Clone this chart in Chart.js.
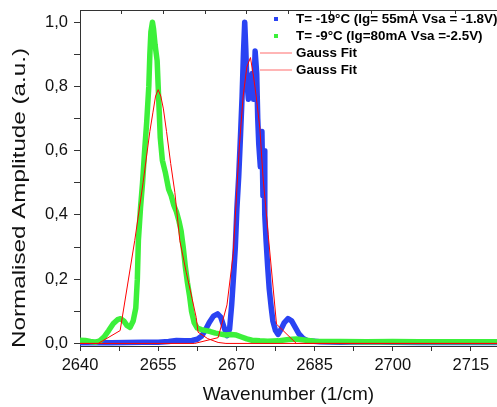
<!DOCTYPE html>
<html>
<head>
<meta charset="utf-8">
<script src="https://cdn.jsdelivr.net/npm/chart.js@4.4.1/dist/chart.umd.min.js"></script>
<style>
  html, body { margin: 0; padding: 0; background: #ffffff; }
  #wrap { width: 497px; height: 407px; }
</style>
</head>
<body>
<div id="wrap"><canvas id="c" width="497" height="407"></canvas></div>
<script>
// ---------------- DATA ----------------
const blueLabel = 'T= -19°C (Ig= 55mA Vsa = -1.8V)';
const greenLabel = 'T= -9°C (Ig=80mA Vsa =-2.5V)';
const fitLabel = 'Gauss Fit';
const xTitle = 'Wavenumber (1/cm)';
const yTitle = 'Normalised Amplitude (a.u.)';

const blueX = [2640, 2643, 2646, 2649, 2652, 2655, 2657, 2658.5, 2660, 2661.5, 2662.5, 2663.3, 2664.0, 2664.8, 2665.6, 2666.4, 2667.0, 2667.6, 2668.2, 2668.7, 2669.1, 2669.5, 2669.8, 2670.1, 2670.45, 2670.8, 2671.1, 2671.35, 2671.6, 2671.8, 2672.0, 2672.3, 2672.7, 2673.0, 2673.3, 2673.6, 2673.9, 2674.1, 2674.3, 2674.6, 2674.9, 2675.1, 2675.3, 2675.45, 2675.7, 2676.0, 2676.3, 2676.7, 2677.0, 2677.5, 2678.0, 2678.6, 2679.2, 2679.9, 2680.6, 2681.3, 2682.0, 2682.8, 2683.7, 2686, 2690, 2695, 2700, 2705, 2710, 2715, 2720];
const blueY = [0.002, 0.003, 0.002, 0.003, 0.004, 0.004, 0.006, 0.009, 0.008, 0.009, 0.013, 0.022, 0.040, 0.065, 0.085, 0.092, 0.082, 0.052, 0.024, 0.045, 0.12, 0.22, 0.30, 0.42, 0.52, 0.65, 0.77, 0.90, 1.00, 0.92, 0.82, 0.76, 0.78, 0.84, 0.76, 0.91, 0.84, 0.70, 0.62, 0.55, 0.66, 0.46, 0.60, 0.40, 0.32, 0.24, 0.17, 0.11, 0.07, 0.040, 0.028, 0.045, 0.065, 0.077, 0.070, 0.050, 0.030, 0.016, 0.008, 0.005, 0.004, 0.005, 0.004, 0.003, 0.004, 0.003, 0.003];

const greenX = [2640, 2641, 2642, 2643, 2643.8, 2644.6, 2645.5, 2646.4, 2647.2, 2647.8, 2648.4, 2649.0, 2649.6, 2650.2, 2650.7, 2651.0, 2651.2, 2651.6, 2652.0, 2652.4, 2652.8, 2653.2, 2653.4, 2653.6, 2653.9, 2654.1, 2654.4, 2654.8, 2655.0, 2655.2, 2655.4, 2655.8, 2656.4, 2657.0, 2657.5, 2658.0, 2658.5, 2659.0, 2659.4, 2659.8, 2660.2, 2660.6, 2661.0, 2661.4, 2661.9, 2662.5, 2663.3, 2664.2, 2665.0, 2666.0, 2667.0, 2668.0, 2669.0, 2670.0, 2671.0, 2672.0, 2673.0, 2674.5, 2676.0, 2678.0, 2680.0, 2681.5, 2683.0, 2685.0, 2690, 2695, 2700, 2705, 2710, 2715, 2720];
const greenY = [0.010, 0.009, 0.006, 0.004, 0.008, 0.020, 0.040, 0.062, 0.074, 0.077, 0.070, 0.056, 0.050, 0.070, 0.11, 0.20, 0.32, 0.42, 0.50, 0.60, 0.69, 0.80, 0.90, 0.97, 1.00, 0.98, 0.93, 0.88, 0.80, 0.72, 0.64, 0.57, 0.53, 0.48, 0.46, 0.43, 0.41, 0.38, 0.35, 0.30, 0.24, 0.19, 0.15, 0.10, 0.065, 0.048, 0.043, 0.040, 0.037, 0.032, 0.029, 0.026, 0.028, 0.026, 0.020, 0.014, 0.010, 0.008, 0.007, 0.008, 0.012, 0.014, 0.011, 0.007, 0.006, 0.005, 0.006, 0.005, 0.005, 0.005, 0.005];

const fit1X = [2640, 2643.5, 2647.7, 2650.5, 2652.1, 2653.4, 2654.0, 2654.5, 2655.0, 2655.5, 2656.0, 2656.6, 2657.4, 2658.2, 2659.15, 2660.4, 2661.5, 2662.3, 2662.65, 2664.5, 2666.5, 2668, 2720];
const fit1Y = [0, 0, 0.040, 0.32, 0.50, 0.66, 0.72, 0.77, 0.79, 0.77, 0.73, 0.66, 0.56, 0.47, 0.32, 0.22, 0.14, 0.08, 0.035, 0.015, 0.003, 0, 0];

const fit2X = [2640, 2662.0, 2666.5, 2668.2, 2669.4, 2670.3, 2670.6, 2671.3, 2672.0, 2672.7, 2673.3, 2673.8, 2674.5, 2675.1, 2676.1, 2677.7, 2681.5, 2720];
const fit2Y = [0, 0, 0.018, 0.12, 0.28, 0.54, 0.62, 0.77, 0.86, 0.89, 0.83, 0.77, 0.67, 0.52, 0.34, 0.06, 0, 0];

const xMin = 2640, xMax = 2720, xMajor = 15, xMinor = 7.5, xTopStep = 8;
const yMin = -0.008, yMax = 1.038, yMinor = 0.1;

// ---------------- STYLE ----------------
const BLUE = '#2a43f3';
const GREEN = '#3cf03a';
const RED = '#ff0000';
const AXIS = '#333333';
const TEXT = '#111111';
const FAMILY = "'Liberation Sans', Arial, Helvetica, sans-serif";

Chart.defaults.font.family = FAMILY;
Chart.defaults.color = TEXT;

function toXY(xs, ys) { return xs.map((x, i) => ({ x: x, y: ys[i] })); }

const legendPlugin = {
  id: 'insideLegend',
  afterDraw(chart) {
    const c = chart.ctx;
    c.save();
    c.font = 'bold 13.4px ' + FAMILY;
    c.textAlign = 'left';
    c.textBaseline = 'middle';
    chart.data.datasets.forEach((ds, i) => {
      const y = 19 + i * 17;
      if (ds.legendKind === 'point') {
        c.fillStyle = ds.borderColor;
        c.fillRect(274, y - 2, 4, 4);
      } else {
        c.strokeStyle = '#ff9c9c';
        c.lineWidth = 1.5;
        c.beginPath();
        c.moveTo(260, y);
        c.lineTo(292, y);
        c.stroke();
      }
      c.fillStyle = '#000';
      c.fillText(ds.label, 296, y + 0.5);
    });
    c.restore();
  }
};

const yTitlePlugin = {
  id: 'yTitle',
  afterDraw(chart) {
    const c = chart.ctx;
    c.save();
    c.font = '17.5px ' + FAMILY;
    c.fillStyle = TEXT;
    c.textAlign = 'center';
    c.textBaseline = 'middle';
    c.translate(20, 198);
    c.rotate(-Math.PI / 2);
    const w = c.measureText(yTitle).width;
    c.scale(300 / w, 1);
    c.fillText(yTitle, 0, 0);
    c.restore();
  }
};

const lineDs = (label, xs, ys, color, width, order, kind) => ({
  label: label,
  data: toXY(xs, ys),
  showLine: true,
  borderColor: color,
  backgroundColor: color,
  borderWidth: width,
  pointRadius: 0,
  tension: 0,
  borderJoinStyle: 'round',
  order: order,
  legendKind: kind
});

new Chart(document.getElementById('c').getContext('2d'), {
  type: 'scatter',
  data: {
    datasets: [
      lineDs(blueLabel, blueX, blueY, BLUE, 5.5, 2, 'point'),
      lineDs(greenLabel, greenX, greenY, GREEN, 5.5, 1, 'point'),
      lineDs(fitLabel, fit1X, fit1Y, RED, 1, 0, 'line'),
      lineDs(fitLabel, fit2X, fit2Y, RED, 1, 0, 'line')
    ]
  },
  options: {
    responsive: false,
    animation: false,
    devicePixelRatio: 1,
    layout: { padding: { top: 10, right: -1, left: 0, bottom: 0 } },
    plugins: { legend: { display: false }, tooltip: { enabled: false } },
    scales: {
      x: {
        type: 'linear', position: 'bottom', min: xMin, max: xMax,
        ticks: {
          stepSize: xMinor, includeBounds: false, autoSkip: false, maxRotation: 0,
          padding: 5, color: TEXT, font: { size: 16.5 },
          callback: (v) => {
            const k = (v - xMin) / xMajor;
            return Math.abs(k - Math.round(k)) < 1e-6 ? String(Math.round(v)) : '';
          }
        },
        grid: { drawOnChartArea: false, drawTicks: true, tickLength: 5, tickColor: AXIS },
        border: { display: true, color: AXIS, width: 1 },
        title: { display: true, text: xTitle, color: TEXT, font: { size: 19 }, padding: { top: 0, bottom: 1 } },
        afterFit: (s) => { s.height = 61; s.paddingLeft = 0; s.paddingRight = 0; }
      },
      x2: {
        type: 'linear', position: 'top', min: xMin, max: xMax,
        ticks: { display: false, stepSize: xTopStep, includeBounds: false },
        grid: { drawOnChartArea: false, drawTicks: true, tickLength: -4, tickColor: AXIS },
        border: { display: true, color: AXIS, width: 1 },
        afterFit: (s) => { s.height = 0; s.paddingLeft = 0; s.paddingRight = 0; }
      },
      y: {
        type: 'linear', position: 'left', min: yMin, max: yMax,
        ticks: {
          stepSize: yMinor, includeBounds: false, autoSkip: false,
          padding: 6, color: TEXT, font: { size: 16.5 },
          callback: (v) => {
            const r = Math.round(v * 10);
            return r % 2 === 0 ? (r / 10).toFixed(1).replace('.', ',') : '';
          }
        },
        grid: { drawOnChartArea: false, drawTicks: true, tickLength: 6, tickColor: AXIS },
        border: { display: true, color: AXIS, width: 1 },
        title: { display: false },
        afterFit: (s) => { s.width = 80; s.paddingTop = 0; s.paddingBottom = 0; }
      }
    }
  },
  plugins: [legendPlugin, yTitlePlugin]
});
</script>
</body>
</html>
